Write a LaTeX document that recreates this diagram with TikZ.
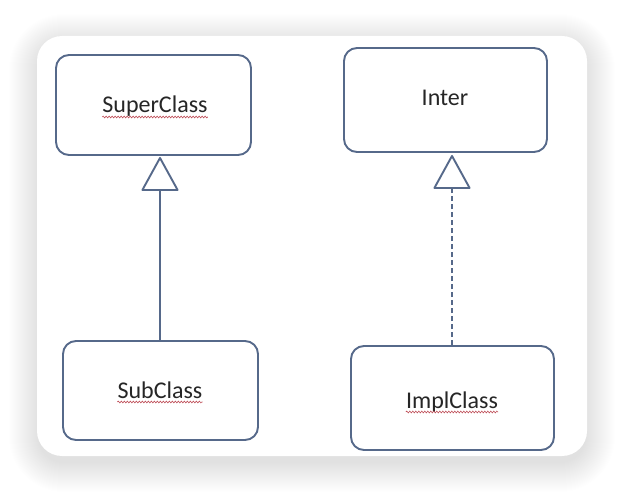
\documentclass[tikz,border=0pt]{standalone}
\usepackage{fontspec}
\setmainfont{Carlito}
\usetikzlibrary{arrows.meta,decorations.pathmorphing,calc}
\definecolor{edge}{HTML}{56698A}
\definecolor{ink}{HTML}{262626}
\definecolor{squig}{HTML}{C0505A}
\tikzset{
  classbox/.style={draw=edge, line width=1.9pt, rounded corners=13pt, fill=white, inner sep=0pt},
  classtext/.style={anchor=base, text=ink, font=\fontsize{24}{28}\selectfont, inner sep=0pt},
  spell/.style={draw=squig, line width=0.6pt, decorate, decoration={snake, amplitude=0.9pt, segment length=3pt}},
  inherit/.style={draw=edge, line width=1.9pt, -{Triangle[open, length=35pt, width=38pt, round]}},
}
\begin{document}
\begin{tikzpicture}[x=1pt, y=-1pt]
\useasboundingbox (0,0) rectangle (622,492);
\fill[white] (0,0) rectangle (622,492);
% soft shadow
\foreach \i in {1,...,30}{
  \fill[black, opacity=0.0045, rounded corners={25pt+\i pt}]
    ($(39,44)+(-\i,-\i)$) rectangle ($(585,462)+(\i,\i)$);
}
% card
\fill[white, rounded corners=25pt] (37,36) rectangle (587,456);
% boxes
\node[classbox, minimum width=195pt, minimum height=100pt] (super) at (153.5,105) {};
\node[classbox, minimum width=203pt, minimum height=104pt] (inter) at (445.5,100) {};
\node[classbox, minimum width=195pt, minimum height=99pt] (sub) at (160.5,390.5) {};
\node[classbox, minimum width=203pt, minimum height=104pt] (impl) at (452.5,398) {};
% texts
\node[classtext] (tsuper) at (155,113) {SuperClass};
\node[classtext] (tinter) at (445,106) {Inter};
\node[classtext] (tsub) at (160,398) {SubClass};
\node[classtext] (timpl) at (452,408) {ImplClass};
% spell-check squiggles
\draw[spell] ([yshift=-4pt]tsuper.base west) -- ([yshift=-4pt]tsuper.base east);
\draw[spell] ([yshift=-4pt]tsub.base west) -- ([yshift=-4pt]tsub.base east);
\draw[spell] ([yshift=-4pt]timpl.base west) -- ([yshift=-4pt]timpl.base east);
% connectors
\coordinate (a1) at (160,157);
\coordinate (a2) at (452,155);
\draw[inherit] (sub.north -| a1) -- (a1);
\draw[inherit, dash pattern=on 5pt off 3pt] (impl.north -| a2) -- (a2);
\end{tikzpicture}
\end{document}
